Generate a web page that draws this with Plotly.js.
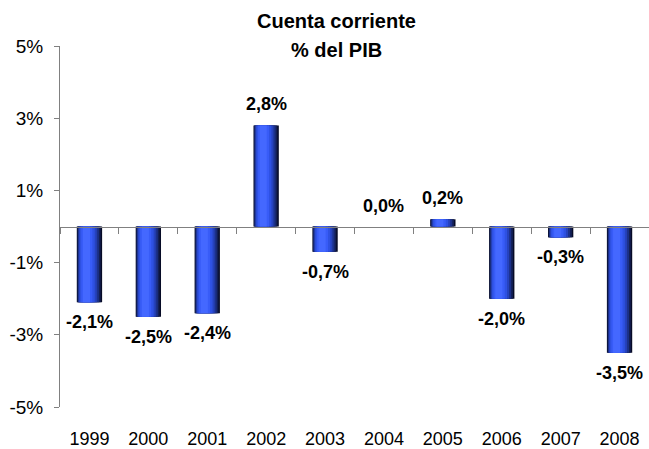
<!DOCTYPE html>
<html>
<head>
<meta charset="utf-8">
<script src="https://cdn.plot.ly/plotly-3.0.1.min.js"></script>
<style>html,body{margin:0;padding:0;background:#fff;}#chart{width:649px;height:449px;}</style>
</head>
<body>
<div id="chart"></div>
<script>
var years = ['1999','2000','2001','2002','2003','2004','2005','2006','2007','2008'];
var values = [-2.1, -2.5, -2.4, 2.8, -0.7, 0.0, 0.2, -2.0, -0.3, -3.5];
var yTickVals = [-5, -3, -1, 1, 3, 5];
var yTickText = ['-5%', '-3%', '-1%', '1%', '3%', '5%'];
var titleLines = ['Cuenta corriente', '% del PIB'];

function fmt(v) { return v.toFixed(1).replace('.', ',') + '%'; }

var FONT = 'Liberation Sans, Arial, sans-serif';

// gradient layers (left edge, right edge relative to category centre, colour)
var layers = [
  [-0.215, 0.215, '#070b26'],
  [-0.205, 0.19, '#131f55'],
  [-0.195, 0.16, '#1c318a'],
  [-0.18, 0.125, '#2642bd'],
  [-0.165, 0.09, '#2e51e2'],
  [-0.14, 0.05, '#385cf7'],
  [-0.11, 0.01, '#4468ff']
];

var traces = layers.map(function (l) {
  return {
    type: 'bar', x: years, y: values,
    width: l[1] - l[0], offset: l[0],
    marker: { color: l[2], line: { width: 0 } },
    hoverinfo: 'skip', showlegend: false
  };
});

var annotations = years.map(function (yr, i) {
  var v = values[i];
  return {
    x: i, y: v, xref: 'x', yref: 'y',
    text: '<b>' + fmt(v) + '</b>', showarrow: false,
    xanchor: 'center', yanchor: 'middle', yshift: v >= 0 ? 21 : -20,
    font: { family: FONT, size: 18, color: '#000' }
  };
});

// title lines
var titleY = [1.069, 0.99];
titleLines.forEach(function (t, i) {
  annotations.push({
    xref: 'paper', yref: 'paper', x: 0.47, y: titleY[i],
    xanchor: 'center', yanchor: 'middle', showarrow: false,
    text: '<b>' + t + '</b>',
    font: { family: FONT, size: 20, color: '#000' }
  });
});

// invisible trace for the zero-line axis
traces.push({ type: 'scatter', x: years, y: values, xaxis: 'x2', yaxis: 'y', mode: 'none', hoverinfo: 'skip', showlegend: false });

var layout = {
  width: 649, height: 449,
  margin: { l: 60, r: 0, t: 46, b: 42 },
  paper_bgcolor: '#fff', plot_bgcolor: '#fff',
  barmode: 'overlay',
  hovermode: false,
  font: { family: FONT, size: 17, color: '#000' },
  xaxis: {
    type: 'category', range: [-0.5, 9.5],
    showline: false, ticks: '', showgrid: false, zeroline: false,
    ticklabelstandoff: 19,
    tickfont: { size: 18 }
  },
  xaxis2: {
    type: 'category', overlaying: 'x', anchor: 'free', position: 0.5,
    range: [-0.5, 9.5],
    showline: true, linecolor: '#808080', linewidth: 1,
    ticks: 'outside', ticklen: 6, tickcolor: '#808080', tickson: 'boundaries',
    showticklabels: false, showgrid: false, zeroline: false
  },
  yaxis: {
    range: [-5, 5],
    tickvals: yTickVals, ticktext: yTickText,
    showline: true, linecolor: '#808080', linewidth: 1,
    ticks: 'outside', ticklen: 5, tickcolor: '#808080',
    ticklabelstandoff: 7,
    showgrid: false, zeroline: false,
    tickfont: { size: 19 }
  },
  annotations: annotations
};

Plotly.newPlot('chart', traces, layout, { displayModeBar: false, staticPlot: true });
</script>
</body>
</html>
